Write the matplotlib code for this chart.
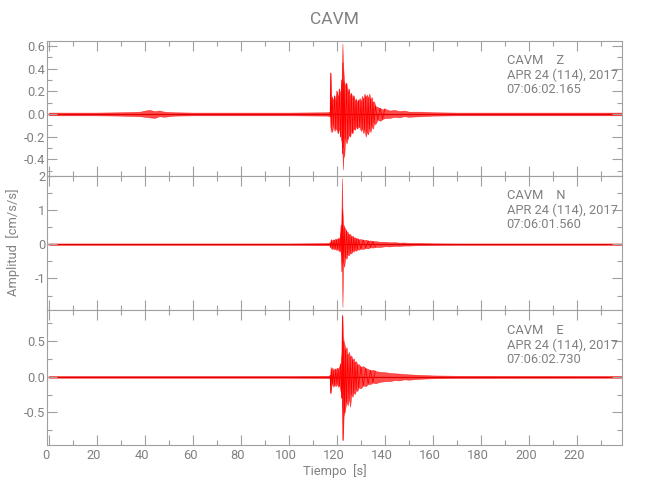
import numpy as np
import matplotlib
matplotlib.use("Agg")
import matplotlib.pyplot as plt
from matplotlib.ticker import MultipleLocator, FormatStrFormatter
from matplotlib.transforms import ScaledTranslation

FONT = ['Roboto', 'DejaVu Sans']
plt.rcParams['font.family'] = FONT
plt.rcParams['font.weight'] = 'normal'

station = "CAVM"
components = ["Z", "N", "E"]
date_label = "APR 24 (114), 2017"
start_times = ["07:06:02.165", "07:06:01.560", "07:06:02.730"]
x_label = "Tiempo  [s]"
y_label = "Amplitud  [cm/s/s]"

# Envelope knots (time [s], upper, lower)
t_z = [0, 10, 20, 30, 38, 40, 42, 44, 46, 48, 52, 60, 80, 100, 116, 117.2, 117.4, 117.6, 118, 118.5,
       119, 119.5, 120, 120.5, 121, 121.5, 122, 122.3, 122.5, 122.8, 123, 123.5, 124, 124.5, 125,
       125.5, 126, 126.5, 127, 127.5, 128, 128.5, 129, 129.5, 130, 130.5, 131, 131.5, 132, 132.5,
       133, 133.5, 134, 134.5, 135, 135.5, 136, 137, 138, 139, 140, 142, 144, 146, 148, 150, 155,
       160, 170, 238.8]
up_z = [0.012, 0.012, 0.012, 0.015, 0.02, 0.03, 0.035, 0.025, 0.03, 0.02, 0.015, 0.012, 0.012, 0.012,
        0.015, 0.02, 0.36, 0.10, 0.15, 0.12, 0.16, 0.10, 0.20, 0.14, 0.22, 0.17, 0.30, 0.62, 0.45,
        0.35, 0.28, 0.25, 0.27, 0.18, 0.22, 0.15, 0.18, 0.13, 0.16, 0.11, 0.13, 0.10, 0.12, 0.14,
        0.11, 0.16, 0.13, 0.18, 0.15, 0.17, 0.14, 0.18, 0.13, 0.15, 0.10, 0.11, 0.07, 0.06, 0.05,
        0.04, 0.045, 0.03, 0.035, 0.025, 0.03, 0.02, 0.02, 0.015, 0.012, 0.012]
lo_z = [-0.012, -0.012, -0.012, -0.015, -0.02, -0.025, -0.03, -0.035, -0.02, -0.025, -0.015, -0.012,
        -0.012, -0.012, -0.015, -0.02, -0.16, -0.12, -0.16, -0.10, -0.15, -0.13, -0.14, -0.17, -0.12,
        -0.20, -0.25, -0.35, -0.49, -0.30, -0.38, -0.22, -0.26, -0.22, -0.18, -0.20, -0.14, -0.17,
        -0.12, -0.14, -0.10, -0.13, -0.10, -0.12, -0.15, -0.13, -0.17, -0.14, -0.20, -0.16, -0.18,
        -0.13, -0.16, -0.11, -0.13, -0.08, -0.09, -0.05, -0.06, -0.045, -0.035, -0.035, -0.025,
        -0.03, -0.02, -0.025, -0.02, -0.015, -0.012, -0.012]

t_n = [0, 50, 100, 116, 117.2, 117.4, 117.8, 118.3, 118.8, 119.3, 119.8, 120.3, 120.8, 121.3, 121.8,
       122.1, 122.3, 122.6, 123, 123.5, 124, 124.5, 125, 125.5, 126, 126.5, 127, 127.5, 128, 128.5,
       129, 130, 131, 132, 133, 134, 135, 136, 138, 140, 142, 144, 146, 148, 150, 153, 156, 160,
       170, 238.8]
up_n = [0.02, 0.02, 0.02, 0.03, 0.04, 0.15, 0.10, 0.14, 0.12, 0.16, 0.13, 0.18, 0.15, 0.25, 0.55,
        1.92, 1.0, 0.6, 0.50, 0.45, 0.38, 0.35, 0.28, 0.30, 0.22, 0.25, 0.19, 0.20, 0.16, 0.18,
        0.14, 0.15, 0.12, 0.13, 0.10, 0.11, 0.085, 0.09, 0.07, 0.07, 0.055, 0.06, 0.045, 0.05,
        0.035, 0.035, 0.03, 0.025, 0.02, 0.02]
lo_n = [-0.02, -0.02, -0.02, -0.03, -0.04, -0.10, -0.14, -0.12, -0.15, -0.13, -0.17, -0.14, -0.20,
        -0.18, -0.30, -0.8, -1.83, -0.55, -0.66, -0.40, -0.42, -0.30, -0.32, -0.25, -0.27, -0.20,
        -0.22, -0.17, -0.19, -0.15, -0.16, -0.13, -0.14, -0.11, -0.12, -0.09, -0.10, -0.08, -0.08,
        -0.06, -0.065, -0.05, -0.05, -0.04, -0.04, -0.03, -0.03, -0.025, -0.02, -0.02]

t_e = [0, 50, 100, 116, 117.2, 117.4, 117.7, 118.1, 118.5, 119, 119.5, 120, 120.5, 121, 121.5, 122,
       122.3, 122.5, 122.8, 123.2, 123.6, 124, 124.5, 125, 125.5, 126, 126.5, 127, 127.5, 128,
       128.5, 129, 130, 131, 132, 133, 134, 135, 136, 138, 140, 142, 144, 146, 148, 150, 153, 156,
       160, 170, 238.8]
up_e = [0.012, 0.012, 0.012, 0.015, 0.02, 0.14, 0.10, 0.13, 0.09, 0.12, 0.10, 0.13, 0.11, 0.15, 0.18,
        0.35, 0.86, 0.6, 0.5, 0.45, 0.38, 0.42, 0.30, 0.35, 0.28, 0.30, 0.24, 0.26, 0.20, 0.22,
        0.17, 0.18, 0.14, 0.15, 0.12, 0.11, 0.09, 0.10, 0.08, 0.07, 0.065, 0.055, 0.05, 0.045,
        0.04, 0.035, 0.03, 0.025, 0.02, 0.015, 0.012]
lo_e = [-0.012, -0.012, -0.012, -0.015, -0.02, -0.23, -0.12, -0.10, -0.14, -0.11, -0.13, -0.10, -0.14,
        -0.12, -0.20, -0.30, -0.5, -0.89, -0.55, -0.5, -0.42, -0.35, -0.40, -0.30, -0.42, -0.25,
        -0.28, -0.22, -0.24, -0.18, -0.20, -0.15, -0.16, -0.12, -0.13, -0.10, -0.10, -0.08, -0.09,
        -0.07, -0.06, -0.06, -0.045, -0.05, -0.035, -0.04, -0.03, -0.025, -0.02, -0.015, -0.012]

traces = [(t_z, up_z, lo_z), (t_n, up_n, lo_n), (t_e, up_e, lo_e)]
ylims = [(-0.544, 0.643), (-1.93, 2.0), (-0.957, 0.934)]
y_major = [0.2, 1.0, 0.5]
y_minor = [0.1, 0.5, 0.25]
y_fmt = ['%.1f', '%d', '%.1f']
xlim = (-0.7, 238.8)

AX_COL = '#a0a0a0'
TXT_COL = '#808080'
RED = '#ff0000'
FS = 9.3

fig = plt.figure(figsize=(6.5, 5), dpi=100)
left, right = 47.3 / 650, 622 / 650
top, bottom = 1 - 41 / 500, 1 - 445 / 500
h = (top - bottom) / 3

axes = []
for i in range(3):
    ax = fig.add_axes([left, top - (i + 1) * h, right - left, h])
    axes.append(ax)
    t, up, lo = (np.asarray(a, dtype=float) for a in traces[i])
    # envelope band
    ax.fill_between(t, lo, up, color=RED, alpha=0.7, lw=0.4)
    # oscillating trace only across the densely sampled event part
    dense = np.zeros(len(t), dtype=bool)
    dt = np.diff(t)
    dense[:-1] |= dt <= 1.1
    dense[1:] |= dt <= 1.1
    idx = np.where(dense)[0]
    zig = np.where(np.arange(len(t)) % 2 == 0, up, lo)
    ax.plot(t[idx], zig[idx], color=RED, lw=0.6)
    ax.axhline(0, color='#e00000', lw=0.9, zorder=1)
    ax.set_xlim(*xlim)
    ax.set_ylim(*ylims[i])
    ax.xaxis.set_major_locator(MultipleLocator(20))
    ax.xaxis.set_minor_locator(MultipleLocator(10))
    ax.yaxis.set_major_locator(MultipleLocator(y_major[i]))
    ax.yaxis.set_minor_locator(MultipleLocator(y_minor[i]))
    ax.yaxis.set_major_formatter(FormatStrFormatter(y_fmt[i]))
    ax.tick_params(which='both', direction='in', top=True, right=True,
                   color=AX_COL, width=0.8, labelcolor=TXT_COL, labelsize=FS)
    ax.tick_params(which='major', length=7)
    ax.tick_params(which='minor', length=3.3)
    ax.tick_params(axis='y', pad=1.5)
    ax.tick_params(axis='x', pad=3)
    for s in ax.spines.values():
        s.set_color(AX_COL)
        s.set_linewidth(0.8)
    if i < 2:
        ax.tick_params(axis='x', labelbottom=False)
    lines = [f"{station}    {components[i]}", date_label, start_times[i]]
    for k, txt in enumerate(lines):
        ax.text(0.7994, 1 - (20 + 14.5 * k) / 134.7, txt, transform=ax.transAxes,
                ha='left', va='center', fontsize=FS, color=TXT_COL)

fig.text((left + right) / 2, 1 - 20 / 500, station, ha='center', va='center',
         fontsize=12.5, color=TXT_COL)
fig.text((left + right) / 2, 1 - 471 / 500, x_label, ha='center', va='center',
         fontsize=FS, color=TXT_COL)
fig.text(13.5 / 650, 1 - 242.5 / 500, y_label, ha='center', va='center', rotation=90,
         fontsize=FS, color=TXT_COL)

off = ScaledTranslation(-3 / 100, 0, fig.dpi_scale_trans)
for tk in axes[2].xaxis.get_major_ticks():
    tk.label1.set_transform(tk.label1.get_transform() + off)

fig.savefig("out.png", dpi=100, facecolor='white')
